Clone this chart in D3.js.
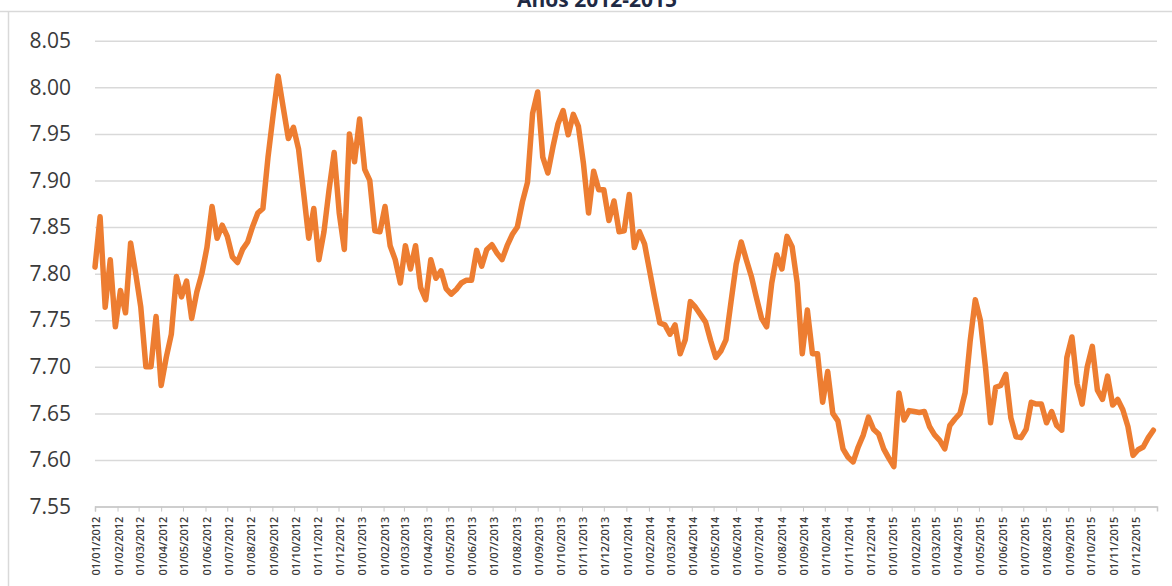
<!DOCTYPE html>
<html>
<head>
<meta charset="utf-8">
<script src="https://cdn.jsdelivr.net/npm/d3@7"></script>
<style>
  body { margin: 0; background: #fff; }
  text { font-family: "Open Sans", sans-serif; }
</style>
</head>
<body>
<svg id="chart"></svg>
<script>
// chart data: weekly values, 2012-2015
var title = "Años 2012-2015";
var firstWeek = "2012-01-01";
var yTicks = [7.55, 7.60, 7.65, 7.70, 7.75, 7.80, 7.85, 7.90, 7.95, 8.00, 8.05];
var values2012 = [
  7.807, 7.861, 7.764, 7.815, 7.743, 7.782, 7.758, 7.833, 7.800, 7.764,
  7.700, 7.700, 7.754, 7.680, 7.710, 7.735, 7.797, 7.775, 7.792, 7.752,
  7.780, 7.800, 7.828, 7.872, 7.838, 7.852, 7.840, 7.818, 7.812, 7.826,
  7.834, 7.851, 7.865, 7.870, 7.925, 7.970, 8.012, 7.978, 7.945, 7.957,
  7.934, 7.887, 7.838, 7.870, 7.815, 7.845, 7.890, 7.930, 7.865, 7.826,
  7.950, 7.920
];
var values2013 = [
  7.966, 7.912, 7.900, 7.846, 7.845, 7.872, 7.830, 7.815, 7.790, 7.830,
  7.805, 7.830, 7.785, 7.772, 7.815, 7.795, 7.803, 7.784, 7.778, 7.783,
  7.790, 7.793, 7.793, 7.825, 7.808, 7.826, 7.831, 7.822, 7.815, 7.830,
  7.842, 7.850, 7.877, 7.898, 7.972, 7.995, 7.925, 7.908, 7.936, 7.961,
  7.975, 7.949, 7.971, 7.958, 7.918, 7.865, 7.910, 7.890, 7.890, 7.857,
  7.878, 7.845
];
var values2014 = [
  7.846, 7.885, 7.828, 7.845, 7.832, 7.803, 7.774, 7.747, 7.745, 7.735,
  7.745, 7.714, 7.729, 7.770, 7.764, 7.756, 7.748, 7.728, 7.710, 7.717,
  7.729, 7.770, 7.810, 7.834, 7.815, 7.797, 7.774, 7.752, 7.743, 7.790,
  7.820, 7.805, 7.840, 7.829, 7.790, 7.714, 7.761, 7.714, 7.714, 7.662,
  7.695, 7.650, 7.642, 7.612, 7.603, 7.598, 7.614, 7.627, 7.646, 7.633,
  7.628, 7.612
];
var values2015 = [
  7.602, 7.593, 7.672, 7.643, 7.653, 7.652, 7.651, 7.652, 7.636, 7.627,
  7.621, 7.612, 7.637, 7.644, 7.650, 7.672, 7.728, 7.772, 7.750, 7.700,
  7.640, 7.678, 7.680, 7.692, 7.645, 7.625, 7.624, 7.633, 7.662, 7.660,
  7.660, 7.640, 7.652, 7.637, 7.632, 7.710, 7.732, 7.682, 7.660, 7.700,
  7.722, 7.675, 7.665, 7.690, 7.659, 7.665, 7.654, 7.636, 7.605, 7.611,
  7.614, 7.624, 7.632
];

var values = values2012.concat(values2013, values2014, values2015);
var start = d3.timeParse("%Y-%m-%d")(firstWeek);
var data = values.map(function(v, i) {
  return { date: d3.timeDay.offset(start, i * 7), value: v };
});
var months = d3.timeMonth.range(new Date(2012, 0, 1), new Date(2016, 0, 1));

var width = 1172, height = 586;
var margin = {top: 40.7, right: 15, bottom: 79.4, left: 95};

var svg = d3.select("#chart")
  .attr("width", width)
  .attr("height", height);

// frame lines of the embedded chart
svg.append("line")
  .attr("x1", 0).attr("x2", width)
  .attr("y1", 11.5).attr("y2", 11.5)
  .attr("stroke", "#d9d9d9").attr("stroke-width", 1.5);
svg.append("line")
  .attr("x1", 8.5).attr("x2", 8.5)
  .attr("y1", 11.5).attr("y2", height)
  .attr("stroke", "#d9d9d9").attr("stroke-width", 1.5);

// title (cut off at top, as in the source)
svg.append("text")
  .attr("x", 597)
  .attr("y", 7)
  .attr("text-anchor", "middle")
  .style("font-size", "21px")
  .style("font-weight", "bold")
  .style("fill", "#1f2a44")
  .text(title);

var x = d3.scaleTime()
  .domain([new Date(2012, 0, 1), new Date(2016, 0, 1)])
  .range([margin.left, width - margin.right]);

var y = d3.scaleLinear()
  .domain([7.55, 8.05])
  .range([height - margin.bottom, margin.top]);

// gridlines + y labels
var yAxis = svg.append("g")
  .attr("transform", "translate(" + margin.left + ",0)")
  .call(d3.axisLeft(y)
    .tickValues(yTicks)
    .tickSize(-(width - margin.left - margin.right))
    .tickFormat(d3.format(".2f"))
    .tickPadding(24));
yAxis.select(".domain").remove();
yAxis.selectAll(".tick line")
  .attr("stroke", "#d9d9d9")
  .attr("stroke-width", 1.5);
yAxis.selectAll(".tick text")
  .style("font-size", "21px")
  .style("fill", "#3a3a3a");

// x axis
var xAxis = svg.append("g")
  .attr("transform", "translate(0," + y(7.55) + ")")
  .call(d3.axisBottom(x)
    .tickValues(months)
    .tickSize(5)
    .tickFormat(d3.timeFormat("%d/%m/%Y")));
xAxis.select(".domain")
  .attr("stroke", "#c8c8c8")
  .attr("stroke-width", 1.5);
xAxis.selectAll(".tick line")
  .attr("stroke", "#c8c8c8");
xAxis.selectAll(".tick text")
  .attr("transform", "rotate(-90)")
  .attr("text-anchor", "end")
  .attr("x", -10)
  .attr("y", 1)
  .attr("dy", "0.35em")
  .style("font-size", "11px")
  .style("font-weight", "600")
  .style("fill", "#3a3a3a");

// series line
var line = d3.line()
  .x(function(d) { return x(d.date); })
  .y(function(d) { return y(d.value); });

svg.append("path")
  .datum(data)
  .attr("fill", "none")
  .attr("stroke", "#ed7d31")
  .attr("stroke-width", 5.5)
  .attr("stroke-linejoin", "round")
  .attr("stroke-linecap", "round")
  .attr("d", line);
</script>
</body>
</html>
